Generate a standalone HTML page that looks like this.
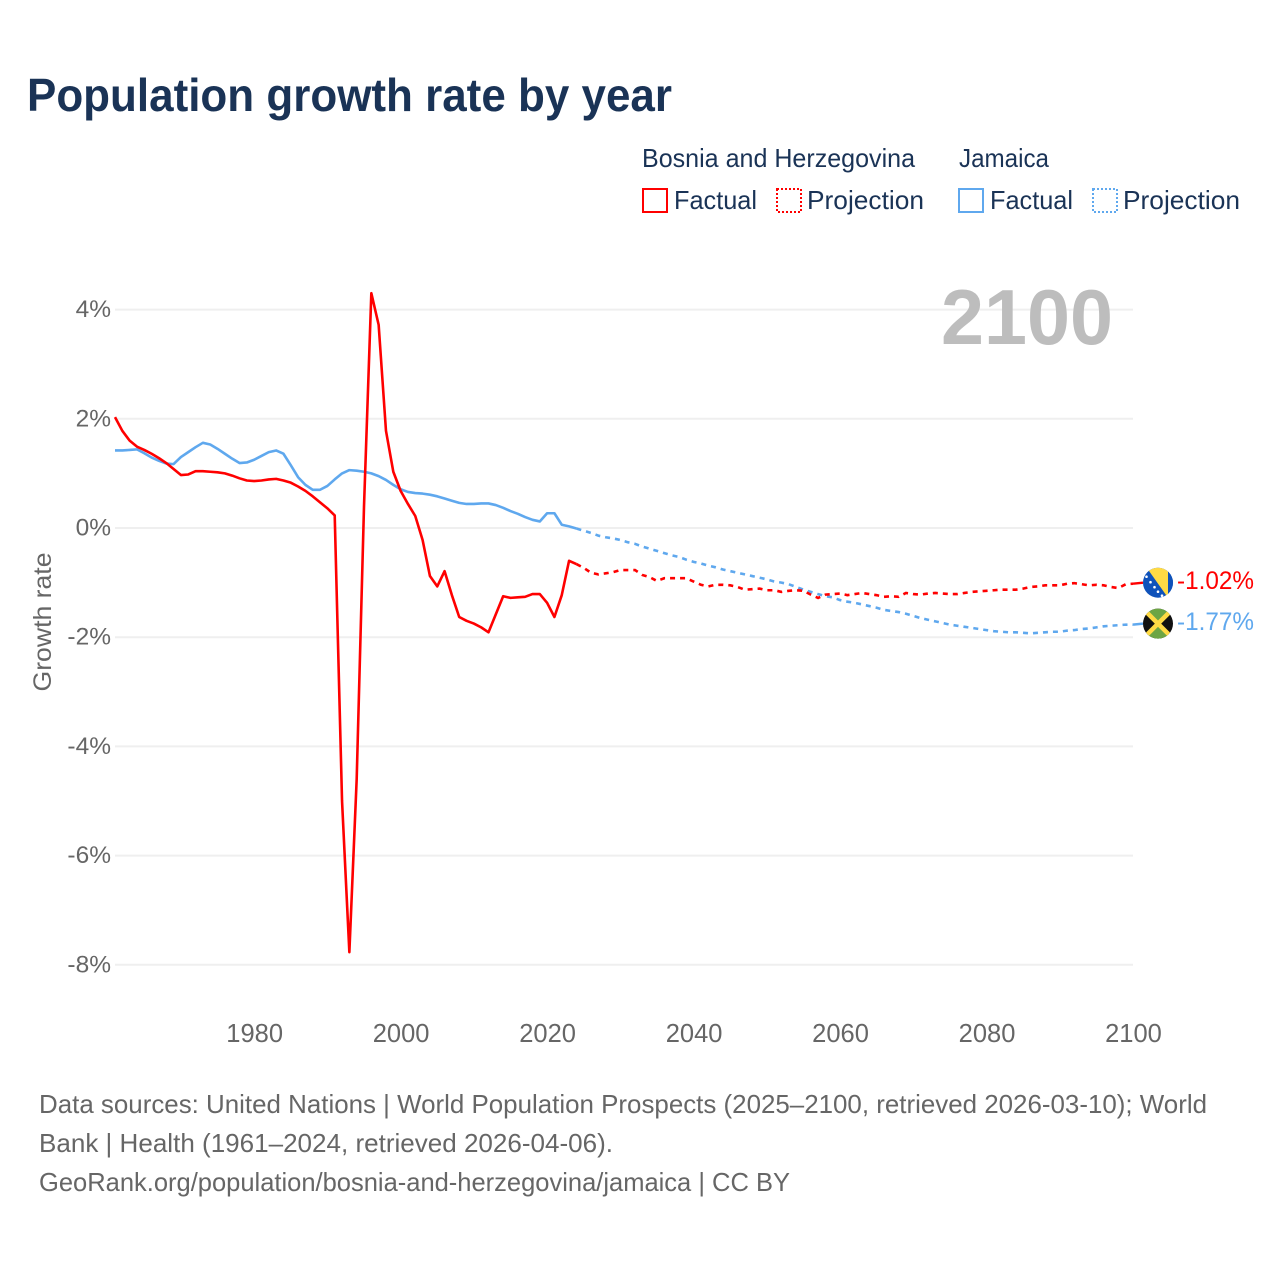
<!DOCTYPE html>
<html lang="en">
<head>
<meta charset="utf-8">
<title>Population growth rate by year</title>
<style>
html,body{margin:0;padding:0;background:#fff;}
svg{display:block;font-family:"Liberation Sans",sans-serif;}
</style>
</head>
<body>
<svg id="chart" xmlns="http://www.w3.org/2000/svg" width="1280" height="1280" viewBox="0 0 1280 1280">
<defs>
<clipPath id="flag-clip-ba"><circle cx="0" cy="0" r="15"/></clipPath>
<clipPath id="flag-clip-jm"><circle cx="0" cy="0" r="15"/></clipPath>
</defs>
<rect x="0" y="0" width="1280" height="1280" fill="#fff"/>
<text x="27" y="111" font-size="46" font-weight="700" fill="#1a3356" textLength="645" lengthAdjust="spacingAndGlyphs">Population growth rate by year</text>

<g font-size="26" fill="#1a3356">
<text x="642" y="167" textLength="273" lengthAdjust="spacingAndGlyphs">Bosnia and Herzegovina</text>
<text x="959" y="167" textLength="90" lengthAdjust="spacingAndGlyphs">Jamaica</text>
<g>
<rect x="643" y="189" width="24" height="23" fill="none" stroke="#ff0000" stroke-width="2" shape-rendering="crispEdges"/>
<text x="674" y="209" textLength="83" lengthAdjust="spacingAndGlyphs">Factual</text>
</g>
<g>
<rect x="777" y="189" width="24" height="23" fill="none" stroke="#ff0000" stroke-width="2" stroke-dasharray="2 2" shape-rendering="crispEdges"/>
<text x="807" y="209" textLength="117" lengthAdjust="spacingAndGlyphs">Projection</text>
</g>
<g>
<rect x="959" y="189" width="24" height="23" fill="none" stroke="#5fa8ee" stroke-width="2" shape-rendering="crispEdges"/>
<text x="990" y="209" textLength="83" lengthAdjust="spacingAndGlyphs">Factual</text>
</g>
<g>
<rect x="1093" y="189" width="24" height="23" fill="none" stroke="#5fa8ee" stroke-width="2" stroke-dasharray="2 2" shape-rendering="crispEdges"/>
<text x="1123" y="209" textLength="117" lengthAdjust="spacingAndGlyphs">Projection</text>
</g>
</g>

<g id="grid"></g>
<g id="y-ticks"></g>
<g id="x-ticks"></g>
<text transform="translate(51,622) rotate(-90)" text-anchor="middle" font-size="25" fill="#666" textLength="139" lengthAdjust="spacingAndGlyphs">Growth rate</text>
<text x="941" y="344" font-size="78" font-weight="700" fill="#bdbdbd" textLength="172" lengthAdjust="spacingAndGlyphs">2100</text>

<g id="series"></g>
<g id="end-labels"></g>

<g font-size="26" fill="#666">
<text x="39" y="1113" textLength="1168" lengthAdjust="spacingAndGlyphs">Data sources: United Nations | World Population Prospects (2025–2100, retrieved 2026-03-10); World</text>
<text x="39" y="1152" textLength="574" lengthAdjust="spacingAndGlyphs">Bank | Health (1961–2024, retrieved 2026-04-06).</text>
<text x="39" y="1191" textLength="751" lengthAdjust="spacingAndGlyphs">GeoRank.org/population/bosnia-and-herzegovina/jamaica | CC BY</text>
</g>
</svg>

<script>
const firstFactualYear = 1961;
const firstProjectionYear = 2025;
const yTickValues = [4, 2, 0, -2, -4, -6, -8];
const xTickYears = [1980, 2000, 2020, 2040, 2060, 2080, 2100];
const bosniaFactual = [2.03,1.78,1.60,1.49,1.43,1.36,1.28,1.19,1.08,0.97,0.98,1.04,1.04,1.03,1.02,1.00,0.96,0.91,0.87,0.86,0.87,0.89,0.90,0.87,0.83,0.76,0.68,0.58,0.47,0.36,0.23,-5.00,-7.77,-4.60,0.40,4.30,3.72,1.78,1.03,0.68,0.44,0.22,-0.22,-0.88,-1.07,-0.79,-1.23,-1.63,-1.70,-1.75,-1.82,-1.91,-1.58,-1.25,-1.28,-1.27,-1.26,-1.21,-1.21,-1.37,-1.63,-1.23,-0.60,-0.66];
const bosniaProjection = [-0.73,-0.82,-0.85,-0.83,-0.81,-0.77,-0.77,-0.77,-0.86,-0.90,-0.97,-0.92,-0.92,-0.92,-0.92,-0.98,-1.04,-1.07,-1.04,-1.04,-1.05,-1.08,-1.13,-1.12,-1.11,-1.14,-1.14,-1.17,-1.15,-1.14,-1.15,-1.22,-1.28,-1.22,-1.21,-1.20,-1.23,-1.21,-1.19,-1.21,-1.23,-1.26,-1.25,-1.26,-1.19,-1.21,-1.22,-1.20,-1.19,-1.20,-1.21,-1.21,-1.19,-1.17,-1.16,-1.15,-1.14,-1.13,-1.13,-1.13,-1.11,-1.08,-1.07,-1.05,-1.05,-1.05,-1.02,-1.01,-1.03,-1.05,-1.04,-1.05,-1.08,-1.10,-1.03,-1.02];
const jamaicaFactual = [1.42,1.42,1.43,1.44,1.37,1.29,1.23,1.18,1.17,1.30,1.39,1.48,1.56,1.53,1.45,1.36,1.27,1.19,1.20,1.25,1.32,1.39,1.42,1.36,1.15,0.93,0.79,0.70,0.70,0.77,0.89,1.00,1.06,1.05,1.03,1.00,0.95,0.88,0.79,0.71,0.66,0.64,0.63,0.61,0.58,0.54,0.50,0.46,0.44,0.44,0.45,0.45,0.42,0.37,0.31,0.26,0.20,0.15,0.12,0.27,0.27,0.06,0.03,-0.01];
const jamaicaProjection = [-0.05,-0.09,-0.14,-0.17,-0.19,-0.22,-0.26,-0.29,-0.34,-0.38,-0.42,-0.46,-0.50,-0.53,-0.58,-0.62,-0.65,-0.69,-0.72,-0.76,-0.79,-0.82,-0.85,-0.88,-0.91,-0.94,-0.98,-1.00,-1.03,-1.08,-1.13,-1.17,-1.21,-1.25,-1.27,-1.32,-1.35,-1.37,-1.40,-1.43,-1.46,-1.50,-1.52,-1.54,-1.57,-1.61,-1.65,-1.68,-1.71,-1.74,-1.77,-1.79,-1.81,-1.83,-1.85,-1.87,-1.89,-1.90,-1.91,-1.91,-1.92,-1.93,-1.92,-1.91,-1.90,-1.90,-1.88,-1.87,-1.85,-1.84,-1.82,-1.80,-1.79,-1.78,-1.77,-1.77];

const SVG_NS = 'http://www.w3.org/2000/svg';
const plotLeft = 115, plotRight = 1133, yearMin = 1961, yearMax = 2100;
const zeroY = 528, pxPerPercent = 54.6;
function xScale(year) { return plotLeft + (year - yearMin) * (plotRight - plotLeft) / (yearMax - yearMin); }
function yScale(value) { return zeroY - value * pxPerPercent; }
function make(tag, attrs, parent) {
  const el = document.createElementNS(SVG_NS, tag);
  for (const k in attrs) el.setAttribute(k, attrs[k]);
  parent.appendChild(el);
  return el;
}
function linePath(values, startYear, prefix) {
  const parts = prefix ? [prefix] : [];
  values.forEach(function (v, i) {
    parts.push(xScale(startYear + i).toFixed(2) + ',' + yScale(v).toFixed(2));
  });
  return 'M' + parts.join(' L');
}

const gridGroup = document.getElementById('grid');
const yTickGroup = document.getElementById('y-ticks');
yTickValues.forEach(function (v) {
  const line = make('line', { x1: plotLeft, x2: plotRight, y1: yScale(v), y2: yScale(v), stroke: '#efefef', 'stroke-width': 2 }, gridGroup);
  
  
  const t = make('text', { x: 111, y: yScale(v) + 7.5, 'text-anchor': 'end', 'font-size': 24.5, fill: '#666' }, yTickGroup);
  
  
  t.textContent = v + '%';
});
const xTickGroup = document.getElementById('x-ticks');
xTickYears.forEach(function (yr) {
  const t = make('text', { x: xScale(yr) + 0.5, y: 1042, 'text-anchor': 'middle', 'font-size': 25.5, fill: '#666' }, xTickGroup);
  
  
  t.textContent = yr;
});

const seriesGroup = document.getElementById('series');
function drawSeries(key, color, factual, projection) {
  const joinYear = firstFactualYear + factual.length - 1;
  const joinPoint = xScale(joinYear).toFixed(2) + ',' + yScale(factual[factual.length - 1]).toFixed(2);
  const solid = make('path', { d: linePath(factual, firstFactualYear), fill: 'none', stroke: color, 'stroke-width': 2.6, 'stroke-linejoin': 'round' }, seriesGroup);
  
  
  const dashed = make('path', { d: linePath(projection, firstProjectionYear, joinPoint), fill: 'none', stroke: color, 'stroke-width': 2.6, 'stroke-dasharray': '5 5' }, seriesGroup);
  
  
}
drawSeries('jamaica', '#5fa8ee', jamaicaFactual, jamaicaProjection);
drawSeries('bosnia', '#ff0000', bosniaFactual, bosniaProjection);

const labelGroup = document.getElementById('end-labels');
function drawEndLabel(key, color, projection) {
  const last = projection[projection.length - 1];
  const y = yScale(last);
  const lead = make('line', { x1: plotRight, x2: 1143, y1: y, y2: y - 1, stroke: color, 'stroke-width': 2.5 }, labelGroup);
  
  
  const t = make('text', { x: 1177, y: y + 5.5, fill: color, 'font-size': 25, textLength: 77, lengthAdjust: 'spacingAndGlyphs' }, labelGroup);
  
  
  t.textContent = last.toFixed(2) + '%';
  const flag = make('g', { transform: 'translate(1158,' + (y - 1) + ')' }, labelGroup);
  
  
  return flag;
}
const baFlag = drawEndLabel('bosnia', '#ff0000', bosniaProjection);
baFlag.innerHTML = '<g clip-path="url(#flag-clip-ba)">' +
  '<rect x="-16" y="-16" width="32" height="32" fill="#0f52ba"/>' +
  '<polygon points="-12,-16 10,-16 10,15" fill="#ffda44"/>' +
  '<rect x="10" y="-16" width="6" height="32" fill="#0f52ba"/>' +
  '<g fill="#fff"><circle cx="-11.500" cy="-6" r="1.300"/><circle cx="-7.500" cy="-0.500" r="1.300"/><circle cx="-3.500" cy="4.500" r="1.300"/><circle cx="0" cy="9" r="1.300"/><circle cx="4" cy="13" r="1.300"/></g>' +
  '</g>';
const jmFlag = drawEndLabel('jamaica', '#5fa8ee', jamaicaProjection);
jmFlag.innerHTML = '<g clip-path="url(#flag-clip-jm)">' +
  '<rect x="-16" y="-16" width="32" height="32" fill="#111"/>' +
  '<polygon points="-16,-16 16,-16 0,0" fill="#6da544"/>' +
  '<polygon points="-16,16 16,16 0,0" fill="#6da544"/>' +
  '<path d="M-15,-15 L15,15 M15,-15 L-15,15" stroke="#ffda44" stroke-width="4.500"/>' +
  '</g>';
</script>
</body>
</html>
